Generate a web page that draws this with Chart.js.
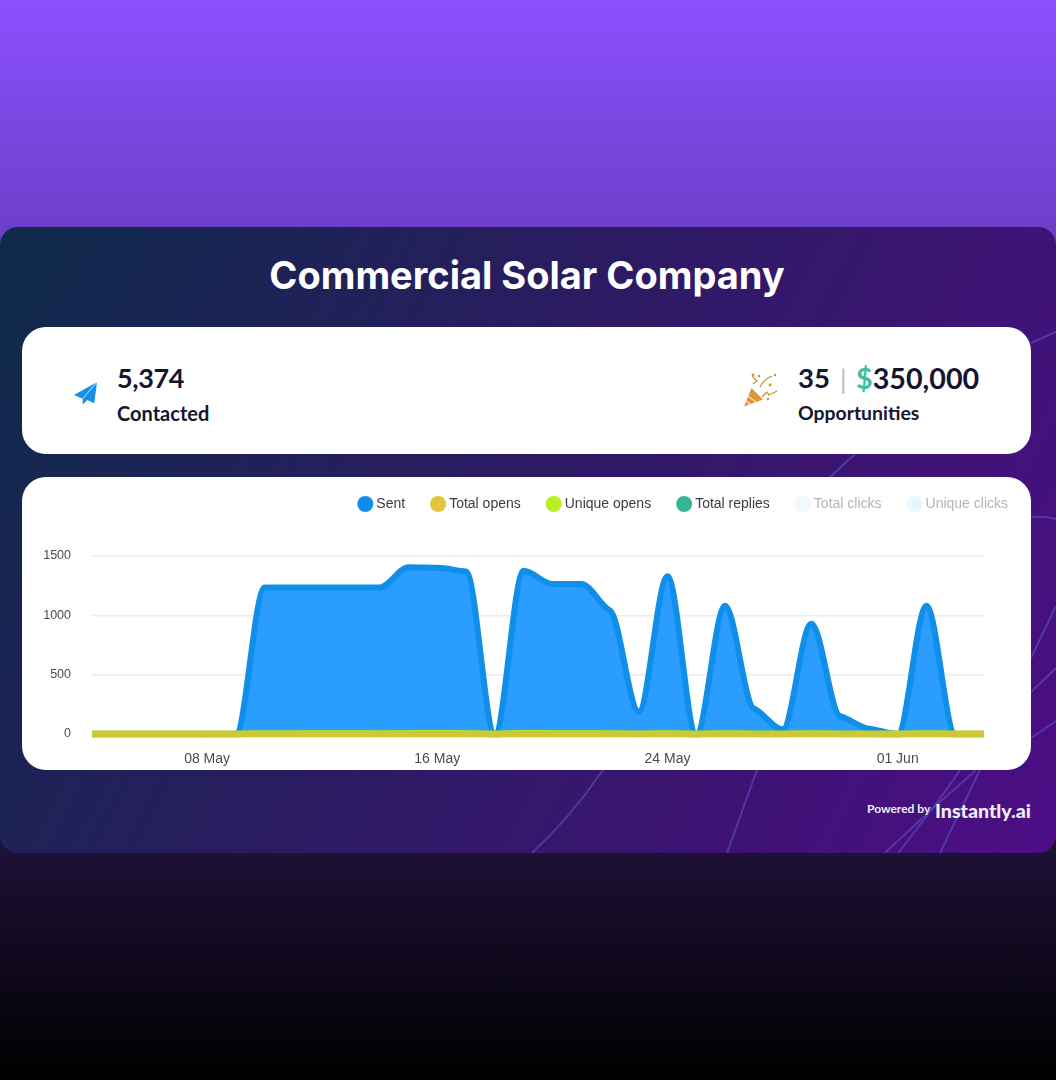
<!DOCTYPE html>
<html><head><meta charset="utf-8">
<style>
html,body{margin:0;padding:0}
body{width:1056px;height:1080px;position:relative;overflow:hidden;background:linear-gradient(180deg,#8b50ff 0%,#000 100%);font-family:Lato,sans-serif}
.panel{position:absolute;left:0;top:227px;width:1056px;height:626px;border-radius:18px;background:linear-gradient(118deg,#0e2b4a 0%,#2a1c60 42%,#4d0d85 100%);overflow:hidden}
.deco{position:absolute;left:0;top:0}
.title{position:absolute;left:0;width:1054px;top:250px;text-align:center;color:#fff;font:700 38px/50px Inter,sans-serif}
.card{position:absolute;left:22px;width:1009px;background:#fff;border-radius:24px}
.t{position:absolute;white-space:nowrap;color:#16152f}
.num{font-weight:700;font-size:28px;line-height:34px}
.lab{font-weight:700;font-size:19.4px;line-height:24px}
#wrap{position:absolute;left:22px;top:477px;width:1009px;height:293px}
</style></head><body>
<div class="panel"></div>
<svg class="deco" width="1056" height="1080" fill="none" stroke="#5540b4" stroke-width="2" stroke-opacity=".8">
<path d="M1031 343 L1056 332"/><path d="M830 477 L855 454"/><path d="M1031 517 Q1045 516 1056 519"/>
<path d="M1031 658 L1056 606"/><path d="M1031 692 L1056 668"/><path d="M1031 738 L1056 721"/>
<path d="M532 853 Q570 818 603 770"/><path d="M727 853 L757 770"/>
<path d="M885 853 Q930 810 976 770"/><path d="M898 853 Q940 800 960 770"/><path d="M940 853 L980 770"/>
</svg>
<div class="title">Commercial Solar Company</div>
<div class="card" style="top:327px;height:127px"></div>
<div class="card" style="top:477px;height:293px"></div>
<svg class="deco" width="1056" height="1080">
<path d="M97 382 L74 395 L82.7 398.7 L82.7 404.7 L87.3 400 L94.3 403.3 Z" fill="#1590e6"/>
<path d="M97 382 L82.7 398.7" stroke="#fff" stroke-width=".8"/>
<path d="M744 406.5 L751.5 388 L763 399.5 Z" fill="#dd9738"/>
<path d="M748 396 L757 403 M746 401 L752 405" stroke="#fff" stroke-width="1"/>
<path d="M760 387 Q764 379 772 376 M752 376 L757 381 L753 384 M762 397 L767 392 L769 395 L777 391" fill="none" stroke="#d98f30" stroke-width="1.3"/>
<circle cx="753" cy="375" r="1.4" fill="#d98f30"/><circle cx="759" cy="376" r="1.2" fill="#999"/><circle cx="775" cy="375" r="1.2" fill="#999"/><circle cx="770" cy="385" r="1.4" fill="#d98f30"/><circle cx="768" cy="399" r="1.2" fill="#999"/>
</svg>
<div class="t num" style="left:117px;top:361px;font-size:27px;letter-spacing:-.4px">5,374</div>
<div class="t lab" style="left:117px;top:401px;font-size:20px">Contacted</div>
<div class="t num" style="left:798px;top:361px;font-size:27.5px">35</div>
<div class="t" style="left:840px;top:362px;font-size:26px;line-height:34px;color:#b9bcc6;font-weight:400">|</div>
<div class="t num" style="left:856px;top:361px;font-size:28.7px"><span style="color:#3bbf9f">$</span>350,000</div>
<div class="t lab" style="left:798px;top:401px">Opportunities</div>
<div class="t" style="left:867px;top:801px;color:#eee;font-weight:700;font-size:12px;line-height:16px">Powered by</div>
<div class="t" style="left:935px;top:798px;color:#f2f0f6;font-weight:900;font-size:19.6px;line-height:25px">Instantly.ai</div>
<div id="wrap"><canvas id="c" width="1009" height="293"></canvas></div>
<script src="https://cdn.jsdelivr.net/npm/chart.js@4/dist/chart.umd.min.js"></script>
<script>
const categories = ["04 May","05 May","06 May","07 May","08 May","09 May","10 May","11 May","12 May","13 May","14 May","15 May","16 May","17 May","18 May","19 May","20 May","21 May","22 May","23 May","24 May","25 May","26 May","27 May","28 May","29 May","30 May","31 May","01 Jun","02 Jun","03 Jun","04 Jun"];
const shownTicks = ["08 May","16 May","24 May","01 Jun"];
const yTicks = [0,500,1000,1500];
const sent =         [0,0,0,0,0,0,1235,1235,1235,1235,1235,1405,1400,1370,0,1375,1265,1265,1040,190,1330,0,1080,215,40,930,150,45,0,1080,0,0];
const totalOpens =   [0,0,0,0,0,0,0,0,0,0,0,0,0,0,0,0,0,0,0,0,0,0,0,0,0,0,0,0,0,0,0,0];
const uniqueOpens =  [0,0,0,0,0,0,3,3,4,4,3,5,6,5,0,7,5,4,3,1,4,0,3,1,0,3,1,0,0,3,0,0];
const totalReplies = [0,0,0,0,0,0,12,14,12,12,12,13,14,12,0,14,13,12,11,3,14,0,12,4,2,11,4,2,0,12,0,0];
const totalClicks =  [0,0,0,0,0,0,0,0,0,0,0,0,0,0,0,0,0,0,0,0,0,0,0,0,0,0,0,0,0,0,0,0];
const uniqueClicks = [0,0,0,0,0,0,0,0,0,0,0,0,0,0,0,0,0,0,0,0,0,0,0,0,0,0,0,0,0,0,0,0];

const base = {pointRadius:0,cubicInterpolationMode:'monotone',clip:false};
const legendMarks = ['#0e8fee','#e3c63a','#b7f01e','#35b596','#eefafc','#e6f8fd'];
const legendTexts = ['#3b3b45','#3b3b45','#3b3b45','#3b3b45','#b3b3ba','#b3b3ba'];

// Tangents that keep the curve's shoulders flat, as in the reference: the library's
// monotone tangents are replaced after its scales have placed the points.
const shoulderTangents = {
  id:'shoulderTangents',
  afterDatasetsUpdate(c){
    c.getSortedVisibleDatasetMetas().forEach(meta=>{
      const line = meta.dataset, pts = meta.data;
      line.updateControlPoints(c.chartArea);
      const sec = i => (pts[i+1].y-pts[i].y)/(pts[i+1].x-pts[i].x);
      const m = pts.map((p,i)=>{
        if(i===0||i===pts.length-1) return 0;
        const a=sec(i-1), b=sec(i);
        return a*b<=0 ? 0 : Math.sign(a)*Math.min(Math.abs(a),Math.abs(b))*0.5;
      });
      pts.forEach((p,i)=>{
        if(i>0){const h=(p.x-pts[i-1].x)/3;p.cp1x=p.x-h;p.cp1y=p.y-m[i]*h;}
        if(i<pts.length-1){const h=(pts[i+1].x-p.x)/3;p.cp2x=p.x+h;p.cp2y=p.y+m[i]*h;}
      });
    });
  }
};

new Chart(document.getElementById('c'),{
  type:'line',
  data:{labels:categories,datasets:[
    {...base,label:'Sent',data:sent,borderColor:'#0f8fea',backgroundColor:'#2a9dff',borderWidth:6,fill:'origin',order:6},
    {...base,label:'Total opens',data:totalOpens,borderColor:'#cfc733',borderWidth:6.5,fill:false,order:1},
    {...base,label:'Unique opens',data:uniqueOpens,borderColor:'#b7f01e',borderWidth:6.5,fill:false,order:3},
    {...base,label:'Total replies',data:totalReplies,borderColor:'#35b596',borderWidth:6.5,fill:false,order:4},
    {...base,label:'Total clicks',data:totalClicks,borderColor:'#eefafc',borderWidth:5,fill:false,hidden:true,order:5},
    {...base,label:'Unique clicks',data:uniqueClicks,borderColor:'#e6f8fd',borderWidth:5,fill:false,hidden:true,order:5}
  ]},
  options:{
    responsive:false,animation:false,
    layout:{padding:{left:0,right:47,top:26,bottom:0}},
    plugins:{
      tooltip:{enabled:false},
      legend:{
        position:'top',align:'end',
        labels:{
          usePointStyle:true,boxWidth:8,boxHeight:11.3,padding:29,
          font:{family:'"Liberation Sans",Arial,sans-serif',size:14},
          generateLabels:c=>c.data.datasets.map((d,i)=>({
            text:d.label,datasetIndex:i,hidden:false,pointStyle:'circle',
            fillStyle:legendMarks[i],strokeStyle:legendMarks[i],lineWidth:0,fontColor:legendTexts[i]
          }))
        }
      }
    },
    scales:{
      x:{
        grid:{drawOnChartArea:false,drawTicks:true,tickLength:4,color:'#dcdcdc'},
        border:{display:false},
        afterBuildTicks:s=>{s.ticks=s.ticks.filter(t=>shownTicks.includes(categories[t.value]));},
        afterFit:s=>{s.height=36;},
        ticks:{autoSkip:false,maxRotation:0,padding:13,color:'#4a4a52',font:{family:'"Liberation Sans",Arial,sans-serif',size:14}}
      },
      y:{
        min:0,max:1500,
        grid:{color:'#ececec',drawTicks:false,lineWidth:1.5},
        border:{display:false},
        afterBuildTicks:s=>{s.ticks=yTicks.map(v=>({value:v}));},
        afterFit:s=>{s.width=70;},
        ticks:{padding:21,color:'#4a4a52',callback:v=>String(v),font:{family:'"Liberation Sans",Arial,sans-serif',size:12.5}}
      }
    }
  },
  plugins:[shoulderTangents,{id:'legendPlace',afterLayout(c){c.legend.right=1015;c.legend.top=-9;}}]
});
</script>
</body></html>
